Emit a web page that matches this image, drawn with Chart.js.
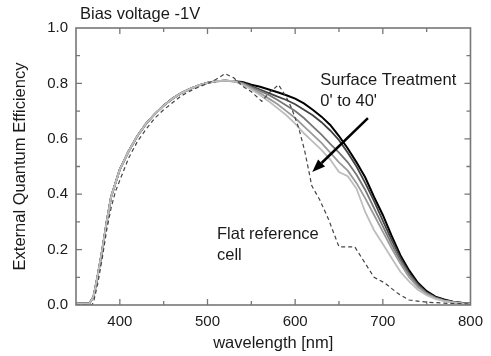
<!DOCTYPE html>
<html>
<head>
<meta charset="utf-8">
<script src="https://cdn.jsdelivr.net/npm/chart.js@4.4.1/dist/chart.umd.min.js"></script>
<style>
  html, body { margin: 0; padding: 0; background: #fff; }
  #wrap { width: 491px; height: 356px; }
</style>
</head>
<body>
<div id="wrap"><canvas id="eqeChart"></canvas></div>
<script>
// wavelength grid (nm) shared by the treated cells
const wavelengths = [350, 360, 365, 370, 375, 380, 385, 390, 395, 400, 410, 420, 430, 440, 450, 460, 470, 480, 490, 500,
  510, 520, 530, 540, 550, 560, 570, 580, 590, 600, 610, 620, 630, 640, 650, 660, 670, 680, 690, 700,
  710, 720, 730, 740, 750, 760, 770, 780, 790, 800];

// common part of the curves up to 530 nm
const rise = [0.005, 0.005, 0.005, 0.03, 0.11, 0.2, 0.3, 0.39, 0.44, 0.49, 0.555, 0.61, 0.655, 0.69, 0.72, 0.745, 0.765, 0.78, 0.793, 0.802,
  0.808, 0.81, 0.808];

// surface treatment 0' ... 40' (black -> light grey), from 540 nm on
const treat0 = rise.concat([0.805, 0.795, 0.788, 0.778, 0.768, 0.757, 0.745, 0.728, 0.705, 0.68, 0.65, 0.61, 0.565, 0.515, 0.46, 0.39, 0.325,
  0.25, 0.18, 0.125, 0.08, 0.05, 0.03, 0.02, 0.012, 0.008, 0.005]);
const treat10 = rise.concat([0.803, 0.79, 0.778, 0.765, 0.752, 0.74, 0.725, 0.705, 0.685, 0.66, 0.63, 0.595, 0.55, 0.5, 0.44, 0.375, 0.305,
  0.235, 0.17, 0.115, 0.075, 0.045, 0.028, 0.018, 0.011, 0.007, 0.005]);
const treat20 = rise.concat([0.8, 0.787, 0.773, 0.758, 0.74, 0.72, 0.7, 0.675, 0.645, 0.615, 0.582, 0.55, 0.515, 0.47, 0.415, 0.35, 0.285,
  0.22, 0.16, 0.11, 0.07, 0.043, 0.026, 0.016, 0.01, 0.007, 0.005]);
const treat30 = rise.concat([0.798, 0.782, 0.765, 0.745, 0.725, 0.7, 0.675, 0.645, 0.615, 0.585, 0.55, 0.515, 0.485, 0.44, 0.385, 0.325, 0.265,
  0.205, 0.15, 0.1, 0.065, 0.04, 0.024, 0.015, 0.01, 0.006, 0.005]);
const treat40 = rise.concat([0.795, 0.778, 0.758, 0.735, 0.71, 0.685, 0.655, 0.62, 0.59, 0.56, 0.525, 0.48, 0.465, 0.42, 0.335, 0.27, 0.22,
  0.17, 0.12, 0.085, 0.055, 0.035, 0.022, 0.014, 0.009, 0.006, 0.005]);

// flat reference cell (dashed)
const flatWavelengths = [350, 360, 368, 370, 375, 380, 385, 390, 395, 400, 410, 420, 430, 440, 450, 460, 470, 480, 490, 500,
  510, 520, 530, 540, 550, 562, 570, 581, 590, 596, 604, 611, 619, 628, 638, 650, 668, 675, 690, 702,
  717, 730, 750, 775, 800];
const flatRef = [0.0, 0.0, 0.0, 0.01, 0.08, 0.17, 0.27, 0.35, 0.41, 0.45, 0.53, 0.59, 0.635, 0.675, 0.705, 0.73, 0.755, 0.772, 0.787, 0.8,
  0.815, 0.835, 0.82, 0.79, 0.77, 0.735, 0.765, 0.795, 0.75, 0.71, 0.64, 0.555, 0.43, 0.38, 0.31, 0.21, 0.21, 0.175, 0.1, 0.08,
  0.042, 0.018, 0.01, 0.006, 0.004];

const xTickLabels = [400, 500, 600, 700, 800];
const xMinorTicks = [450, 550, 650, 750];
const yTickLabels = [0, 0.2, 0.4, 0.6, 0.8, 1.0];
const yMinorTicks = [0.1, 0.3, 0.5, 0.7, 0.9];

const FONT = "'Liberation Sans', Arial, Helvetica, sans-serif";
const TEXT = '#1a1a1a';

function pts(xs, ys) {
  return xs.map((x, i) => ({ x: x, y: ys[i] }));
}

// frame with inward ticks on all four sides, plus the annotations
const framePlugin = {
  id: 'frame',
  afterDatasetsDraw(chart) {
    const { ctx, chartArea: a, scales: { x, y } } = chart;
    ctx.save();
    ctx.strokeStyle = '#777';
    ctx.lineWidth = 1.6;
    ctx.strokeRect(a.left, a.top, a.right - a.left, a.bottom - a.top);
    ctx.lineWidth = 1.3;
    ctx.beginPath();
    const tick = (vals, len) => {
      vals.forEach(v => {
        const px = x.getPixelForValue(v);
        if (px <= a.left + 1 || px >= a.right - 1) return;
        ctx.moveTo(px, a.bottom); ctx.lineTo(px, a.bottom - len);
        ctx.moveTo(px, a.top); ctx.lineTo(px, a.top + len);
      });
    };
    const ytick = (vals, len) => {
      vals.forEach(v => {
        const py = y.getPixelForValue(v);
        if (py <= a.top + 1 || py >= a.bottom - 1) return;
        ctx.moveTo(a.left, py); ctx.lineTo(a.left + len, py);
        ctx.moveTo(a.right, py); ctx.lineTo(a.right - len, py);
      });
    };
    tick(xTickLabels, 6);
    tick(xMinorTicks, 4);
    ytick(yTickLabels, 6);
    ytick(yMinorTicks, 4);
    ctx.stroke();
    ctx.restore();
  },
  afterDraw(chart) {
    const { ctx, chartArea: a, scales: { x, y } } = chart;
    ctx.save();
    ctx.fillStyle = TEXT;
    ctx.font = '16.5px ' + FONT;
    ctx.textBaseline = 'middle';
    ctx.textAlign = 'left';
    ctx.fillText('Bias voltage -1V', a.left + 4, 14);
    ctx.fillText('Surface Treatment', x.getPixelForValue(628.6), y.getPixelForValue(0.809));
    ctx.fillText("0' to 40'", x.getPixelForValue(628.6), y.getPixelForValue(0.736));
    ctx.fillText('Flat reference', x.getPixelForValue(510.8), y.getPixelForValue(0.256));
    ctx.fillText('cell', x.getPixelForValue(510.8), y.getPixelForValue(0.18));

    // arrow 0' -> 40'
    const x0 = x.getPixelForValue(683), y0 = y.getPixelForValue(0.675);
    const x1 = x.getPixelForValue(619.5), y1 = y.getPixelForValue(0.48);
    const ang = Math.atan2(y1 - y0, x1 - x0);
    const headLen = 13, headW = 5;
    const bx = x1 - headLen * Math.cos(ang), by = y1 - headLen * Math.sin(ang);
    ctx.strokeStyle = '#000';
    ctx.lineWidth = 2.5;
    ctx.beginPath();
    ctx.moveTo(x0, y0);
    ctx.lineTo(bx, by);
    ctx.stroke();
    ctx.fillStyle = '#000';
    ctx.beginPath();
    ctx.moveTo(x1, y1);
    ctx.lineTo(bx + headW * Math.sin(ang), by - headW * Math.cos(ang));
    ctx.lineTo(bx - headW * Math.sin(ang), by + headW * Math.cos(ang));
    ctx.closePath();
    ctx.fill();
    ctx.restore();
  }
};

const line = (data, color, width, dash) => ({
  data: data,
  borderColor: color,
  borderWidth: width,
  borderDash: dash || [],
  pointRadius: 0,
  tension: 0,
  fill: false
});

const ctx = document.getElementById('eqeChart').getContext('2d');
const eqeChart = new Chart(ctx, {
  type: 'line',
  data: {
    datasets: [
      line(pts(flatWavelengths, flatRef), '#444', 1.2, [4, 3]),
      line(pts(wavelengths, treat40), '#bdbdbd', 1.8),
      line(pts(wavelengths, treat30), '#9a9a9a', 1.8),
      line(pts(wavelengths, treat20), '#777', 1.8),
      line(pts(wavelengths, treat10), '#444', 1.8),
      line(pts(wavelengths, treat0), '#000', 2)
    ]
  },
  options: {
    responsive: true,
    maintainAspectRatio: false,
    animation: false,
    layout: { padding: { top: 28, right: 18, left: 0, bottom: 0 } },
    plugins: {
      legend: { display: false },
      tooltip: { enabled: false }
    },
    scales: {
      x: {
        type: 'linear',
        min: 350,
        max: 800,
        grid: { display: false, drawTicks: false },
        border: { display: false },
        afterBuildTicks: (scale) => { scale.ticks = xTickLabels.map(v => ({ value: v })); },
        afterFit: (scale) => { scale.height = 51; },
        ticks: {
          padding: 8,
          color: TEXT,
          maxRotation: 0,
          font: { family: FONT, size: 15 }
        },
        title: {
          display: true,
          text: 'wavelength [nm]',
          color: TEXT,
          padding: { top: 0, bottom: 3 },
          font: { family: FONT, size: 16.5, lineHeight: 1.2 }
        }
      },
      y: {
        min: 0,
        max: 1,
        grid: { display: false, drawTicks: false },
        border: { display: false },
        afterBuildTicks: (scale) => { scale.ticks = yTickLabels.map(v => ({ value: v })); },
        afterFit: (scale) => { scale.width = 76; },
        ticks: {
          padding: 8,
          color: TEXT,
          font: { family: FONT, size: 15 },
          callback: (v) => Number(v).toFixed(1)
        },
        title: {
          display: true,
          text: 'External Quantum Efficiency',
          color: TEXT,
          padding: { top: 11, bottom: 0 },
          font: { family: FONT, size: 16.5, lineHeight: 1.2 }
        }
      }
    }
  },
  plugins: [framePlugin]
});
</script>
</body>
</html>
